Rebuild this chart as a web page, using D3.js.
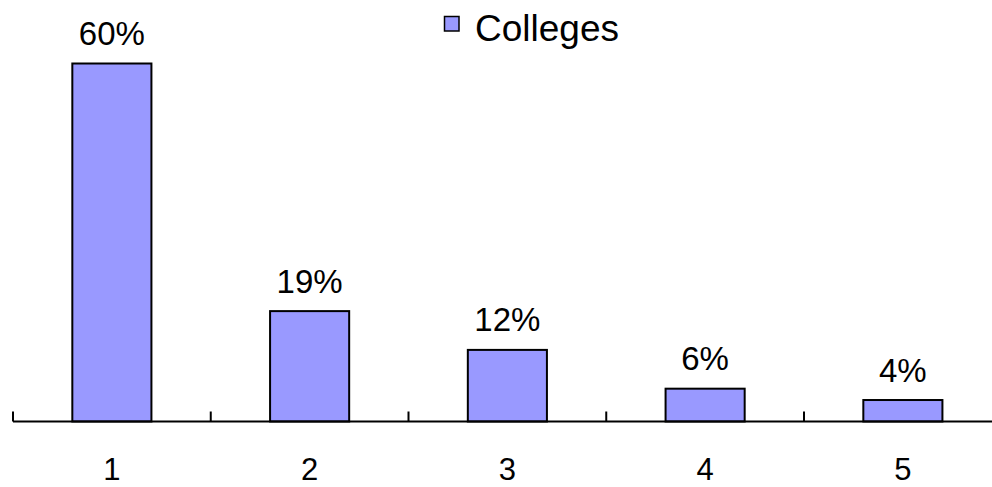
<!DOCTYPE html>
<html>
<head>
<meta charset="utf-8">
<script src="https://cdn.jsdelivr.net/npm/d3@7"></script>
<style>
  html, body { margin: 0; padding: 0; background: #fff; }
  svg { display: block; }
  text { font-family: Arial, "Liberation Sans", sans-serif; fill: #000; }
</style>
</head>
<body>
<svg id="chart" width="992" height="487"></svg>
<script>
const categories = ["1", "2", "3", "4", "5"];
const values = [60, 18.5, 12, 5.5, 3.6];
const valueLabels = ["60%", "19%", "12%", "6%", "4%"];
const seriesName = "Colleges";

const svg = d3.select("#chart");
const x0 = 13, band = 197.75, baseY = 421.5;

const xSlot = d3.scaleBand().domain(categories).range([x0, x0 + band * categories.length]);
const y = d3.scaleLinear().domain([0, 60]).range([baseY, 63.5]);
const barW = xSlot.bandwidth() * 0.4;

svg.selectAll("rect.bar")
  .data(values)
  .join("rect")
  .attr("class", "bar")
  .attr("x", (d, i) => xSlot(categories[i]) + xSlot.bandwidth() * 0.3)
  .attr("width", barW)
  .attr("y", d => y(d))
  .attr("height", d => baseY - y(d))
  .attr("fill", "#9999FF")
  .attr("stroke", "#000")
  .attr("stroke-width", 2);

svg.selectAll("text.vlab")
  .data(values)
  .join("text")
  .attr("class", "vlab")
  .attr("x", (d, i) => xSlot(categories[i]) + xSlot.bandwidth() / 2)
  .attr("y", d => y(d) - 18.5)
  .attr("text-anchor", "middle")
  .attr("font-size", 33)
  .text((d, i) => valueLabels[i]);

svg.append("line")
  .attr("x1", x0).attr("x2", 992)
  .attr("y1", baseY).attr("y2", baseY)
  .attr("stroke", "#000").attr("stroke-width", 2);

const tickXs = categories.map(c => xSlot(c));
svg.selectAll("line.tick")
  .data(tickXs)
  .join("line")
  .attr("class", "tick")
  .attr("x1", d => d).attr("x2", d => d)
  .attr("y1", baseY).attr("y2", baseY - 10)
  .attr("stroke", "#000").attr("stroke-width", 2);

svg.selectAll("text.xlab")
  .data(categories)
  .join("text")
  .attr("class", "xlab")
  .attr("x", d => xSlot(d) + xSlot.bandwidth() / 2)
  .attr("y", 480)
  .attr("text-anchor", "middle")
  .attr("font-size", 31)
  .text(d => d);

const lg = svg.append("g");
lg.append("rect")
  .attr("x", 444.5).attr("y", 16.5).attr("width", 14.5).attr("height", 14.5)
  .attr("fill", "#9999FF").attr("stroke", "#000").attr("stroke-width", 1.5);
lg.append("text")
  .attr("x", 475).attr("y", 41)
  .attr("font-size", 37)
  .text(seriesName);
</script>
</body>
</html>
